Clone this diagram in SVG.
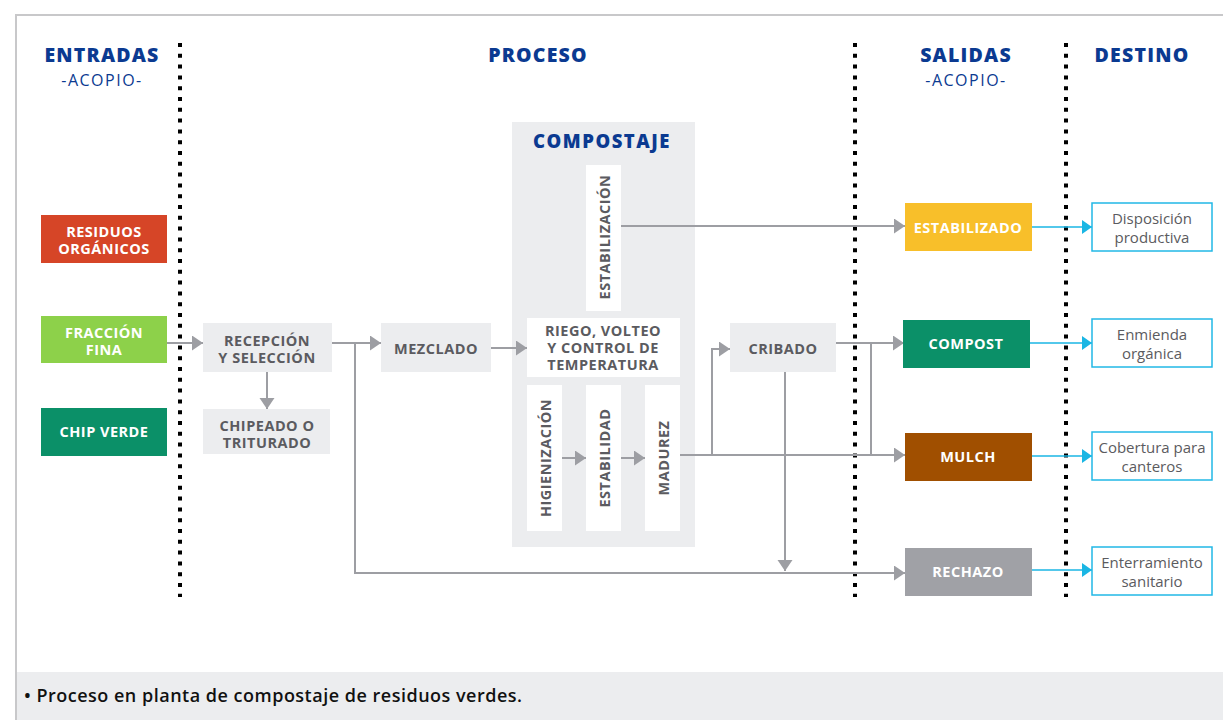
<svg xmlns="http://www.w3.org/2000/svg" width="1223" height="720" viewBox="0 0 1223 720">
<style>
.hdr{font-family:"Open Sans","Liberation Sans",sans-serif;font-weight:800;font-size:19.5px;fill:#0b3a91;text-anchor:middle;letter-spacing:1.2px}
.sub{font-family:"Open Sans","Liberation Sans",sans-serif;font-size:16px;fill:#0b3a91;text-anchor:middle;letter-spacing:1.5px}
.wt{font-family:"Open Sans","Liberation Sans",sans-serif;font-weight:700;font-size:14.5px;fill:#ffffff;text-anchor:middle;dominant-baseline:central;letter-spacing:0.5px}
.gt{font-family:"Open Sans","Liberation Sans",sans-serif;font-weight:700;font-size:14.5px;fill:#5b5b60;text-anchor:middle;dominant-baseline:central;letter-spacing:0.5px}
.dt{font-family:"Open Sans","Liberation Sans",sans-serif;font-size:15px;fill:#5b5b60;text-anchor:middle;dominant-baseline:central}
.gbox{fill:#ecedef}
.wbox{fill:#ffffff}
.dbox{fill:#ffffff;stroke:#22b8e6;stroke-width:1.5}
.dot{stroke:#000;stroke-width:4;stroke-dasharray:4 6.8;fill:none}
.ln{stroke:#9d9ea3;stroke-width:2;fill:none}
.la{stroke:#9d9ea3;stroke-width:2;fill:none;marker-end:url(#ga)}
.ca{stroke:#1ab6e4;stroke-width:1.6;fill:none;marker-end:url(#ca)}
</style>
<defs>
<marker id="ga" markerUnits="userSpaceOnUse" markerWidth="12" markerHeight="16" refX="11" refY="7.5" orient="auto"><path d="M0,0 L11,7.5 L0,15 z" fill="#9d9ea3"/></marker>
<marker id="ca" markerUnits="userSpaceOnUse" markerWidth="12" markerHeight="16" refX="10" refY="7" orient="auto"><path d="M0,0 L10,7 L0,14 z" fill="#1ab6e4"/></marker>
</defs>
<rect x="0" y="0" width="1223" height="720" fill="#ffffff"/>
<path d="M16,720 L16,15 L1223,15" stroke="#c8c8ca" stroke-width="2" fill="none"/>
<rect x="17" y="672" width="1206" height="48" fill="#ecedef"/>
<text x="24" y="702" font-family="'Open Sans','Liberation Sans',sans-serif" font-weight="600" font-size="18" letter-spacing="0.5" fill="#111">• Proceso en planta de compostaje de residuos verdes.</text>

<g id="headers">
<text class="hdr" x="102" y="62">ENTRADAS</text>
<text class="sub" x="102" y="86">-ACOPIO-</text>
<text class="hdr" x="538" y="62">PROCESO</text>
<text class="hdr" x="966" y="62">SALIDAS</text>
<text class="sub" x="966" y="86">-ACOPIO-</text>
<text class="hdr" x="1142" y="62">DESTINO</text>
</g>
<g id="dividers">
<line class="dot" x1="180" y1="43" x2="180" y2="597"/>
<line class="dot" x1="855" y1="43" x2="855" y2="597"/>
<line class="dot" x1="1066" y1="43" x2="1066" y2="597"/>
</g>

<g id="compostaje">
<rect class="gbox" x="512" y="122" width="183" height="425"/>
<text x="602" y="148" font-family="'Open Sans','Liberation Sans',sans-serif" font-weight="800" font-size="18.5" letter-spacing="1.5" fill="#0b3a91" text-anchor="middle">COMPOSTAJE</text>
</g>

<g id="connectors">
<line class="la" x1="167" y1="343" x2="203" y2="343"/>
<line class="la" x1="267" y1="372" x2="267" y2="409"/>
<line class="la" x1="332" y1="343" x2="381" y2="343"/>
<path class="la" d="M355,343 L355,573 L905,573"/>
<line class="la" x1="491" y1="348" x2="527" y2="348"/>
<line class="la" x1="562" y1="458" x2="586" y2="458"/>
<line class="la" x1="621" y1="458" x2="645" y2="458"/>
<line class="la" x1="621" y1="226" x2="905" y2="226"/>
<line class="la" x1="680" y1="455" x2="905" y2="455"/>
<path class="la" d="M712,455 L712,349 L730,349"/>
<line class="la" x1="836" y1="343" x2="904" y2="343"/>
<line class="ln" x1="871" y1="343" x2="871" y2="455"/>
<line class="la" x1="785" y1="372" x2="785" y2="571"/>
<line class="ca" x1="1032" y1="227" x2="1092" y2="227"/>
<line class="ca" x1="1030" y1="343" x2="1092" y2="343"/>
<line class="ca" x1="1032" y1="456" x2="1092" y2="456"/>
<line class="ca" x1="1032" y1="570" x2="1092" y2="570"/>
</g>

<g id="residuos"><rect x="41" y="215" width="126" height="48" fill="#d64527"/><text class="wt" x="104" y="231.5">RESIDUOS</text><text class="wt" x="104" y="248.5">ORGÁNICOS</text></g>
<g id="fraccion"><rect x="41" y="316" width="126" height="47" fill="#8dd14a"/><text class="wt" x="104" y="332">FRACCIÓN</text><text class="wt" x="104" y="349">FINA</text></g>
<g id="chip"><rect x="41" y="408" width="126" height="48" fill="#0b9068"/><text class="wt" x="104" y="431">CHIP VERDE</text></g>

<g id="recepcion"><rect class="gbox" x="203" y="323" width="129" height="49"/><text class="gt" x="267" y="340">RECEPCIÓN</text><text class="gt" x="267" y="357">Y SELECCIÓN</text></g>
<g id="chipeado"><rect class="gbox" x="203" y="409" width="127" height="45"/><text class="gt" x="267" y="425">CHIPEADO O</text><text class="gt" x="267" y="442">TRITURADO</text></g>
<g id="mezclado"><rect class="gbox" x="381" y="323" width="110" height="49"/><text class="gt" x="436" y="348">MEZCLADO</text></g>

<g id="estabilizacion"><rect class="wbox" x="586" y="165" width="35" height="146"/><text class="gt" transform="translate(604,237) rotate(-90)">ESTABILIZACIÓN</text></g>
<g id="riego"><rect class="wbox" x="527" y="318" width="153" height="59"/><text class="gt" x="603" y="330" font-size="14">RIEGO, VOLTEO</text><text class="gt" x="603" y="347" font-size="14">Y CONTROL DE</text><text class="gt" x="603" y="364" font-size="14">TEMPERATURA</text></g>
<g id="higienizacion"><rect class="wbox" x="527" y="385" width="35" height="146"/><text class="gt" transform="translate(545,458) rotate(-90)">HIGIENIZACIÓN</text></g>
<g id="estabilidad"><rect class="wbox" x="586" y="385" width="35" height="146"/><text class="gt" transform="translate(604,458) rotate(-90)">ESTABILIDAD</text></g>
<g id="madurez"><rect class="wbox" x="645" y="385" width="35" height="146"/><text class="gt" transform="translate(663,458) rotate(-90)">MADUREZ</text></g>

<g id="cribado"><rect class="gbox" x="730" y="323" width="106" height="49"/><text class="gt" x="783" y="348">CRIBADO</text></g>

<g id="estabilizado"><rect x="905" y="203" width="127" height="48" fill="#f8bf2a"/><text class="wt" x="968" y="227">ESTABILIZADO</text></g>
<g id="compost"><rect x="903" y="320" width="127" height="48" fill="#0b9068"/><text class="wt" x="966" y="343">COMPOST</text></g>
<g id="mulch"><rect x="905" y="433" width="127" height="48" fill="#a04f00"/><text class="wt" x="968" y="456">MULCH</text></g>
<g id="rechazo"><rect x="905" y="548" width="127" height="48" fill="#a0a1a6"/><text class="wt" x="968" y="571">RECHAZO</text></g>

<g id="disposicion"><rect class="dbox" x="1092" y="203" width="120" height="48"/><text class="dt" x="1152" y="218">Disposición</text><text class="dt" x="1152" y="237">productiva</text></g>
<g id="enmienda"><rect class="dbox" x="1092" y="319" width="120" height="48"/><text class="dt" x="1152" y="334">Enmienda</text><text class="dt" x="1152" y="353">orgánica</text></g>
<g id="cobertura"><rect class="dbox" x="1092" y="432" width="120" height="48"/><text class="dt" x="1152" y="447">Cobertura para</text><text class="dt" x="1152" y="466">canteros</text></g>
<g id="enterramiento"><rect class="dbox" x="1092" y="547" width="120" height="48"/><text class="dt" x="1152" y="562">Enterramiento</text><text class="dt" x="1152" y="581">sanitario</text></g>
</svg>
